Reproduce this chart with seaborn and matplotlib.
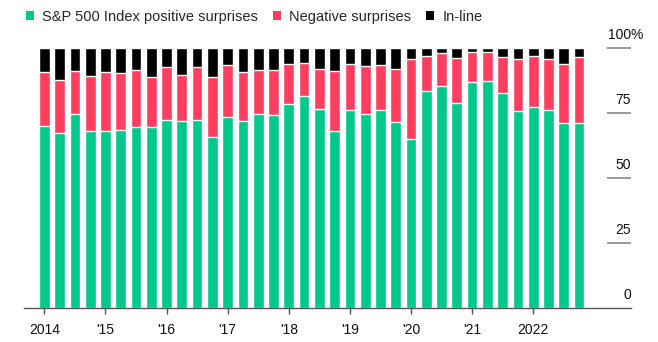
import matplotlib
matplotlib.use("Agg")
import matplotlib.pyplot as plt
from matplotlib.patches import Patch
import seaborn as sns
import pandas as pd
import numpy as np

# ---- data (percent of S&P 500 companies, quarterly 2014Q1 - 2022Q4) ----
years = list(range(2014, 2023))
quarters = [f"{y}Q{q}" for y in years for q in range(1, 5)]
positive = [69.9, 67.1, 74.7, 67.9, 67.9, 68.3, 69.4, 69.4, 72.4, 72.0, 72.4, 65.6,
            73.2, 72.0, 74.4, 74.0, 78.2, 81.3, 76.3, 67.9, 75.9, 74.4, 75.9, 71.3,
            65.1, 83.2, 85.1, 78.7, 87.0, 87.3, 82.5, 75.6, 77.4, 75.9, 71.0, 71.0]
negative = [20.6, 20.3, 16.5, 21.4, 22.6, 21.9, 22.2, 19.5, 20.0, 17.7, 20.0, 23.0,
            20.0, 18.5, 17.2, 17.6, 15.7, 13.0, 15.7, 23.0, 18.0, 18.4, 17.3, 20.7,
            30.4, 13.8, 12.7, 17.5, 11.5, 11.2, 14.1, 19.9, 19.6, 19.6, 22.9, 25.6]
inline = [round(100 - p - n, 1) for p, n in zip(positive, negative)]
xtick_labels = ["2014", "'15", "'16", "'17", "'18", "'19", "'20", "'21", "2022"]
ytick_values = [0, 25, 50, 75, 100]
ytick_labels = ["0", "25", "50", "75", "100"]
series_names = ["S&P 500 Index positive surprises", "Negative surprises", "In-line"]

GREEN = "#00C88B"
RED = "#FF3F60"
BLACK = "#000000"

df = pd.DataFrame({"quarter": quarters, "positive": positive,
                   "negative": negative, "inline": inline})
df["neg_top"] = df["positive"] + df["negative"]
df["total"] = df["neg_top"] + df["inline"]

sns.set_theme(style="white")
plt.rcParams["font.family"] = ["Liberation Sans", "DejaVu Sans"]

W, H = 658, 342
fig = plt.figure(figsize=(W / 100, H / 100), dpi=100)
ax = fig.add_axes([24 / W, (H - 308) / H, (631 - 24) / W, (308 - 47.7) / H])

for col, c in [("total", BLACK), ("neg_top", RED), ("positive", GREEN)]:
    sns.barplot(data=df, x="quarter", y=col, color=c, width=0.7,
                saturation=1, ax=ax, order=quarters)

ax.set_xlim(-1.33, 38.4)
ax.set_ylim(0, 100)
ax.set_xlabel("")
ax.set_ylabel("")

for s in ["top", "right", "left"]:
    ax.spines[s].set_visible(False)
ax.spines["bottom"].set_color("#555555")
ax.spines["bottom"].set_linewidth(1.0)

ax.set_xticks([4 * i for i in range(len(xtick_labels))])
ax.set_xticklabels(xtick_labels, fontsize=10, color="#111111")
ax.tick_params(axis="x", length=4, width=1, color="#555555", pad=6.5, bottom=True)
ax.set_yticks([])

# right-hand value scale
x0 = (607 - 44.3) / 15.28
for v, lab in zip(ytick_values, ytick_labels):
    if v > 0:
        ax.hlines(v, x0, 38.4, color="#888888", lw=1.2, clip_on=False)
    ax.text(38.4, v + 5, lab, ha="right", va="center", fontsize=10,
            color="#111111", clip_on=False)
    if v == 100:
        ax.text(38.4, v + 5, "%", ha="left", va="center", fontsize=10,
                color="#111111", clip_on=False)

handles = [Patch(facecolor=GREEN, edgecolor="none"),
           Patch(facecolor=RED, edgecolor="none"),
           Patch(facecolor=BLACK, edgecolor="none")]
fig.legend(handles, series_names, loc="upper left",
           bbox_to_anchor=(26 / W, (H - 10) / H), ncol=3, frameon=False,
           fontsize=10.5, handlelength=0.58, handleheight=0.58, handletextpad=0.55,
           columnspacing=1.0, borderpad=0, borderaxespad=0)

fig.savefig("out.png", dpi=100)
